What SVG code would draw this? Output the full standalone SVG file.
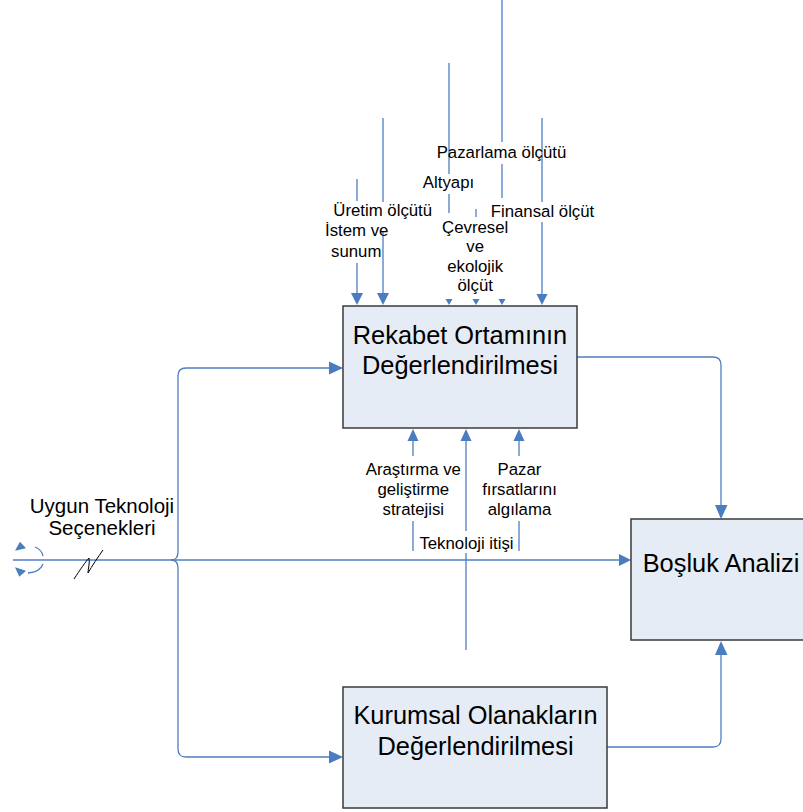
<svg xmlns="http://www.w3.org/2000/svg" width="803" height="812" viewBox="0 0 803 812">
<style>
.box{fill:#e6ecf6;stroke:#3a3a3a;stroke-width:1.5}
.ln{fill:none;stroke:#4f7fc0;stroke-width:1.3}
.ah{fill:#4a7cc0;stroke:none}
.t{font-family:"Liberation Sans",Arial,sans-serif;fill:#000;text-anchor:middle}
.big{font-size:25.4px}
.lbl{font-size:16.8px}
.mid{font-size:20.5px}
</style>
<rect width="803" height="812" fill="#fff"/>
<g id="connectors">
  <!-- top inputs -->
  <path class="ln" d="M357,179 V201 M357,263 V293"/>
  <polygon class="ah" points="351,293 363,293 357,305"/>
  <path class="ln" d="M383,118 V202 M383,231 V293"/>
  <polygon class="ah" points="377,293 389,293 383,305"/>
  <path class="ln" d="M449,63 V174 M449,194 V213"/>
  <polygon class="ah" points="445.5,299 452.5,299 449,305"/>
  <path class="ln" d="M476,209 V217"/>
  <polygon class="ah" points="472.5,299 479.5,299 476,305"/>
  <path class="ln" d="M502,0 V142 M502,164 V198"/>
  <polygon class="ah" points="498.5,299 505.5,299 502,305"/>
  <path class="ln" d="M542,118 V202 M542,222 V294"/>
  <polygon class="ah" points="536.5,294 547.5,294 542,305"/>
  <!-- bottom inputs -->
  <path class="ln" d="M413,441 V456 M413,521 V551"/>
  <polygon class="ah" points="407.5,441 418.5,441 413,429"/>
  <path class="ln" d="M466,441 V531 M466,553 V650"/>
  <polygon class="ah" points="460.5,441 471.5,441 466,429"/>
  <path class="ln" d="M519,441 V456 M519,521 V551"/>
  <polygon class="ah" points="513.5,441 524.5,441 519,429"/>
  <!-- main line -->
  <path class="ln" d="M13,560 H619"/>
  <polygon class="ah" points="619,554 619,566 631,560"/>
  <!-- branches -->
  <path class="ln" d="M171,560 Q178,560 178,552 V376 Q178,368 186,368 H329"/>
  <polygon class="ah" points="329,361.5 329,374.5 343,368"/>
  <path class="ln" d="M171,560 Q178,560 178,568 V749 Q178,757 186,757 H329"/>
  <polygon class="ah" points="329,750.5 329,763.5 343,757"/>
  <!-- outputs to Boşluk -->
  <path class="ln" d="M577,357 H713 Q721,357 721,365 V505"/>
  <polygon class="ah" points="715,505 727.5,505 721,519"/>
  <path class="ln" d="M607,747 H713 Q721,747 721,739 V655"/>
  <polygon class="ah" points="715,655 727.5,655 721,641"/>
  <!-- loop symbol -->
  <path class="ln" d="M35,547 Q42,550 43,556"/>
  <polygon class="ah" points="20,541.7 15,550.7 26,548.3"/>
  <path class="ln" d="M43,564 Q40,572 28,573"/>
  <polygon class="ah" points="15,567.3 26,570.7 19.3,576.7"/>
  <path d="M74,579 C80,570 86,561 89,558 C90,563 88,569 88,573 C92,566 98,557 103,550" fill="none" stroke="#000" stroke-width="1"/>
</g>
<g id="rekabet">
  <rect class="box" x="343" y="306" width="234" height="122"/>
  <text class="t big" x="460" y="344">Rekabet Ortamının</text>
  <text class="t big" x="460" y="374">Değerlendirilmesi</text>
</g>
<g id="kurumsal">
  <rect class="box" x="343" y="687" width="264" height="121"/>
  <text class="t big" x="475.5" y="724">Kurumsal Olanakların</text>
  <text class="t big" x="475.5" y="755">Değerlendirilmesi</text>
</g>
<g id="bosluk">
  <rect class="box" x="631" y="519" width="185" height="121"/>
  <text class="t big" x="721" y="572">Boşluk Analizi</text>
</g>
<g id="labels">
  <text class="t lbl" x="501.5" y="158">Pazarlama ölçütü</text>
  <text class="t lbl" x="448.5" y="188">Altyapı</text>
  <text class="t lbl" x="382.7" y="216">Üretim ölçütü</text>
  <text class="t lbl" x="356.7" y="236">İstem ve</text>
  <text class="t lbl" x="356.2" y="256.5">sunum</text>
  <text class="t lbl" x="475.2" y="232.5">Çevresel</text>
  <text class="t lbl" x="475.2" y="252">ve</text>
  <text class="t lbl" x="475.2" y="271.5">ekolojik</text>
  <text class="t lbl" x="475.2" y="291">ölçüt</text>
  <text class="t lbl" x="542.5" y="216.5">Finansal ölçüt</text>
  <text class="t lbl" x="413.3" y="475">Araştırma ve</text>
  <text class="t lbl" x="413.3" y="495">geliştirme</text>
  <text class="t lbl" x="413.3" y="514.5">stratejisi</text>
  <text class="t lbl" x="519.5" y="475">Pazar</text>
  <text class="t lbl" x="519.5" y="495">fırsatlarını</text>
  <text class="t lbl" x="519.5" y="514.5">algılama</text>
  <text class="t lbl" x="466.5" y="548.5">Teknoloji itişi</text>
  <text class="t mid" x="102" y="513">Uygun Teknoloji</text>
  <text class="t mid" x="102" y="535">Seçenekleri</text>
</g>
</svg>
